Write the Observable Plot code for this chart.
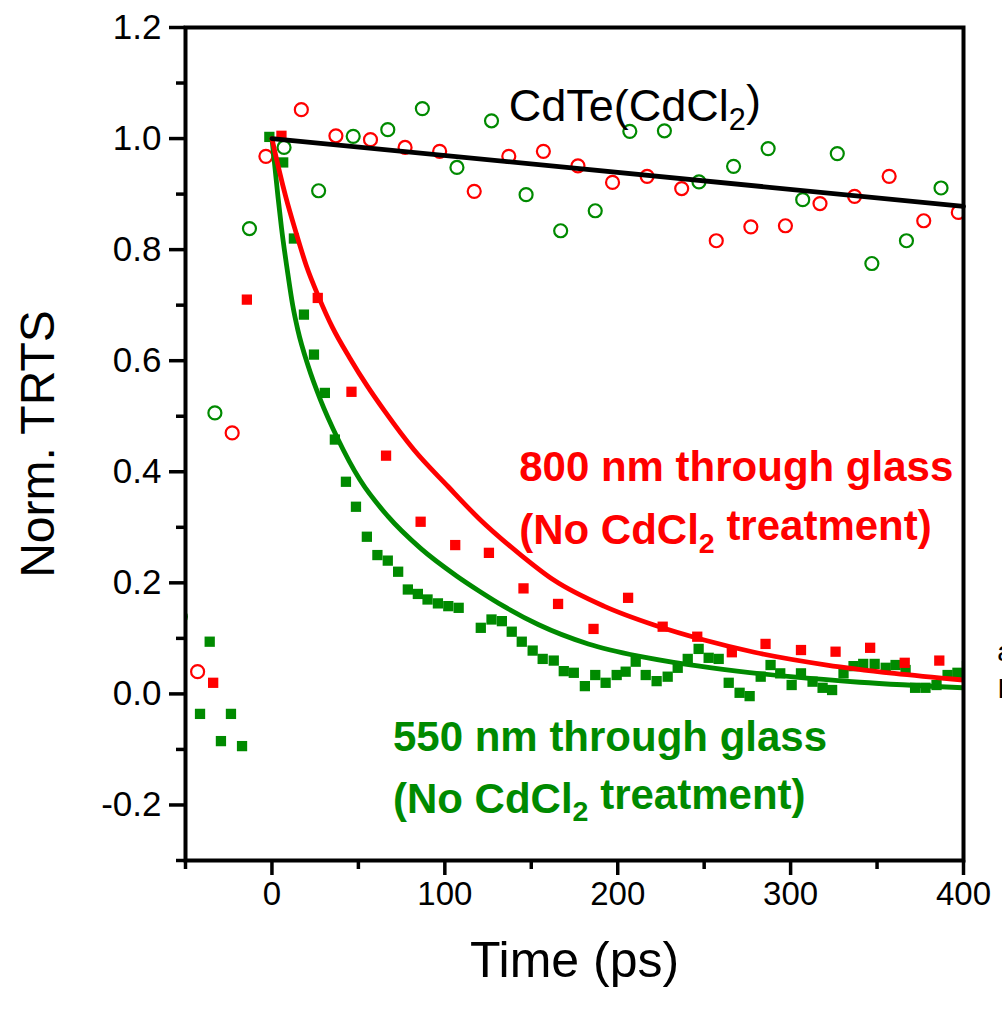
<!DOCTYPE html>
<html>
<head>
<meta charset="utf-8">
<script src="https://cdn.jsdelivr.net/npm/d3@7"></script>
<script src="https://cdn.jsdelivr.net/npm/@observablehq/plot@0.6"></script>
<style>
  html, body { margin: 0; padding: 0; background: #fff; }
  #chart svg { display: block; }
</style>
</head>
<body>
<div id="chart"></div>
<script>
// ---- tick definitions ----
const xTicks = [0, 100, 200, 300, 400];
const xMinor = [-50, 50, 150, 250, 350];
const yTicks = [-0.2, 0.0, 0.2, 0.4, 0.6, 0.8, 1.0, 1.2];
const yMinor = [-0.3, -0.1, 0.1, 0.3, 0.5, 0.7, 0.9, 1.1];

// ---- CdTe(CdCl2) open circles, red ----
const redCircleT = [-43, -23, -3.5, 17, 37, 57, 77, 97, 117, 137, 157, 177, 197, 217, 237, 257, 277, 297, 317, 337, 357, 377, 397];
const redCircleV = [0.04, 0.47, 0.968, 1.052, 1.005, 0.998, 0.984, 0.977, 0.905, 0.968, 0.977, 0.951, 0.921, 0.932, 0.91, 0.816, 0.841, 0.843, 0.883, 0.896, 0.932, 0.852, 0.867];

// ---- CdTe(CdCl2) open circles, green ----
const greenCircleT = [-53, -33, -13, 7, 27, 47, 67, 87, 107, 127, 147, 167, 187, 207, 227, 247, 267, 287, 307, 327, 347, 367, 387];
const greenCircleV = [0.139, 0.506, 0.838, 0.984, 0.906, 1.004, 1.016, 1.054, 0.948, 1.032, 0.899, 0.834, 0.87, 1.013, 1.014, 0.922, 0.95, 0.982, 0.89, 0.973, 0.775, 0.816, 0.911];

// ---- 800 nm through glass, filled squares ----
const redSquareT = [-34, -14.5, 5.5, 26.5, 46, 66, 86, 106, 125.5, 145.5, 165.5, 186, 206, 226, 246, 266, 285.5, 306, 326, 346, 366, 386];
const redSquareV = [0.02, 0.71, 1.005, 0.713, 0.544, 0.429, 0.31, 0.268, 0.254, 0.19, 0.162, 0.117, 0.173, 0.121, 0.103, 0.075, 0.09, 0.079, 0.076, 0.083, 0.056, 0.06];

// ---- 550 nm through glass, filled squares ----
const greenSquareT = [-41.6, -36, -29.5, -23.7, -17.3, -1.5, 6.5, 12.7, 18.5, 24.3, 30.6, 36.4, 42.8, 48.6, 54.9, 61, 67, 73, 78.6, 84.4, 90, 96, 102, 108,
  120.8, 127, 133, 138.7, 144.5, 150.8, 156.6, 163, 168.8, 174.6, 181, 187, 193, 199.4, 204.6, 210.4, 216.2, 222.5, 228.9, 234.7, 240.5, 246.8, 252.6, 258.4,
  264.2, 270.5, 276.3, 282.7, 288.4, 294, 300.6, 306, 312.7, 318.5, 324, 330.6, 336.4, 342, 348.6, 355, 360.7, 366.5, 372, 378, 384.4, 390.8, 396.5, 402];
const greenSquareV = [-0.036, 0.094, -0.085, -0.036, -0.094, 1.003, 0.957, 0.82, 0.683, 0.611, 0.542, 0.458, 0.382, 0.337, 0.283, 0.25, 0.24, 0.22, 0.188, 0.18, 0.17, 0.163, 0.158, 0.155,
  0.119, 0.134, 0.131, 0.112, 0.094, 0.078, 0.063, 0.06, 0.041, 0.038, 0.014, 0.034, 0.02, 0.034, 0.04, 0.058, 0.034, 0.023, 0.031, 0.047, 0.063, 0.081, 0.065, 0.063,
  0.02, 0.002, -0.004, 0.031, 0.052, 0.037, 0.016, 0.037, 0.022, 0.011, 0.007, 0.037, 0.05, 0.054, 0.054, 0.047, 0.052, 0.043, 0.011, 0.011, 0.016, 0.034, 0.038, 0.05];

// ---- fitted curves ----
const redFitT = [0, 4, 8, 14, 20, 27, 35, 45, 55, 65, 82, 102, 120, 144, 163, 192, 221, 250, 279, 321, 360, 400];
const redFitV = [1.0, 0.945, 0.895, 0.83, 0.77, 0.715, 0.66, 0.605, 0.555, 0.51, 0.44, 0.373, 0.315, 0.25, 0.205, 0.158, 0.124, 0.097, 0.075, 0.052, 0.037, 0.025];
const greenFitT = [0, 1.5, 3.5, 5.5, 9.5, 12, 15, 21, 28, 38, 51, 67, 86, 107, 120, 134, 154, 183, 212, 240, 269, 300, 340, 400];
const greenFitV = [1.0, 0.955, 0.895, 0.84, 0.75, 0.70, 0.655, 0.59, 0.53, 0.46, 0.385, 0.32, 0.262, 0.212, 0.185, 0.158, 0.125, 0.09, 0.068, 0.053, 0.041, 0.031, 0.021, 0.011];
const blackFitT = [0, 400];
const blackFitV = [1.0, 0.878];

// ---- labels ----
const xLabel = "Time (ps)";
const yLabel = "Norm. TRTS";
const blackText = ["CdTe(CdCl2)"];
const blackT = [137];
const blackV = [1.058];
const redText = ["800 nm through glass", "(No CdCl2 treatment)"];
const redT = [143, 143];
const redV = [0.407, 0.294];
const greenText = ["550 nm through glass", "(No CdCl2 treatment)"];
const greenT = [70, 70];
const greenV = [-0.079, -0.19];
// fragments of neighbouring text cut by the right edge of the picture
const edgeText = ["a", "I"];
const edgeT = [419.5, 419.5];
const edgeV = [0.076, 0.008];

const RED = "#ff0000";
const GREEN = "#008a00";

const pts = (T, V) => T.map((t, i) => ({t, v: V[i]}));
const labs = (S, T, V) => S.map((s, i) => ({s, t: T[i], v: V[i]}));

const chart = Plot.plot({
  width: 1002,
  height: 1011,
  marginLeft: 185,
  marginRight: 39,
  marginTop: 27,
  marginBottom: 151,
  x: {domain: [-50, 400]},
  y: {domain: [-0.3, 1.2]},
  style: {fontFamily: "'Liberation Sans', Arial, sans-serif", background: "white", color: "black", overflow: "visible"},
  marks: [
    // data squares
    Plot.dot(pts(greenSquareT, greenSquareV), {x: "t", y: "v", symbol: "square", r: 5.8, fill: GREEN, stroke: "none", clip: true}),
    Plot.dot(pts(redSquareT, redSquareV), {x: "t", y: "v", symbol: "square", r: 5.8, fill: RED, stroke: "none", clip: true}),
    // open circles
    Plot.dot(pts(redCircleT, redCircleV), {x: "t", y: "v", r: 6.5, stroke: RED, strokeWidth: 2.2, fill: "none", clip: true}),
    Plot.dot(pts(greenCircleT, greenCircleV), {x: "t", y: "v", r: 6.5, stroke: GREEN, strokeWidth: 2.2, fill: "none", clip: true}),
    // fit lines
    Plot.line(pts(greenFitT, greenFitV), {x: "t", y: "v", stroke: GREEN, strokeWidth: 4.8, curve: "monotone-x", clip: true}),
    Plot.line(pts(redFitT, redFitV), {x: "t", y: "v", stroke: RED, strokeWidth: 4.8, curve: "monotone-x", clip: true}),
    Plot.line(pts(blackFitT, blackFitV), {x: "t", y: "v", stroke: "black", strokeWidth: 4.8}),
    // annotations
    Plot.text(labs(blackText, blackT, blackV), {x: "t", y: "v", text: "s", textAnchor: "start", fill: "black", fontSize: 45}),
    Plot.text(labs(redText, redT, redV), {x: "t", y: "v", text: "s", textAnchor: "start", fill: RED, fontSize: 42, fontWeight: "bold"}),
    Plot.text(labs(greenText, greenT, greenV), {x: "t", y: "v", text: "s", textAnchor: "start", fill: GREEN, fontSize: 42, fontWeight: "bold"}),
    Plot.text(labs(edgeText, edgeT, edgeV), {x: "t", y: "v", text: "s", textAnchor: "start", fill: "black", fontSize: 28}),
    // frame
    Plot.frame({stroke: "black", strokeWidth: 4}),
    // axes
    Plot.axisX({ticks: xTicks, tickSize: 15, strokeWidth: 3.5, tickPadding: 6, fontSize: 33, label: null, tickFormat: d => String(d)}),
    Plot.axisX({ticks: xMinor, tickSize: 9, strokeWidth: 3.5, label: null, tickFormat: () => ""}),
    Plot.axisY({ticks: yTicks, tickSize: 16, strokeWidth: 3.5, tickPadding: 8, fontSize: 35, label: null, tickFormat: d => d.toFixed(1)}),
    Plot.axisY({ticks: yMinor, tickSize: 9, strokeWidth: 3.5, label: null, tickFormat: () => ""}),
    // axis titles
    Plot.text([xLabel], {frameAnchor: "bottom", dy: 116, fontSize: 50, fill: "black"}),
    Plot.text([yLabel], {frameAnchor: "left", textAnchor: "middle", dx: -147, rotate: -90, fontSize: 48, fill: "black"})
  ]
});

// Subscript the "2" in CdCl2
d3.select(chart).selectAll("text").each(function() {
  const el = this;
  const s = el.textContent;
  if (el.children.length === 0 && s.includes("CdCl2")) {
    const i = s.indexOf("CdCl2") + 4;
    const before = s.slice(0, i), after = s.slice(i + 1);
    el.textContent = "";
    const sel = d3.select(el);
    sel.append("tspan").text(before);
    sel.append("tspan").attr("dy", "0.3em").attr("font-size", "0.68em").text("2");
    sel.append("tspan").attr("dy", "-0.3em").text(after);
  }
});

document.getElementById("chart").appendChild(chart);
</script>
</body>
</html>
